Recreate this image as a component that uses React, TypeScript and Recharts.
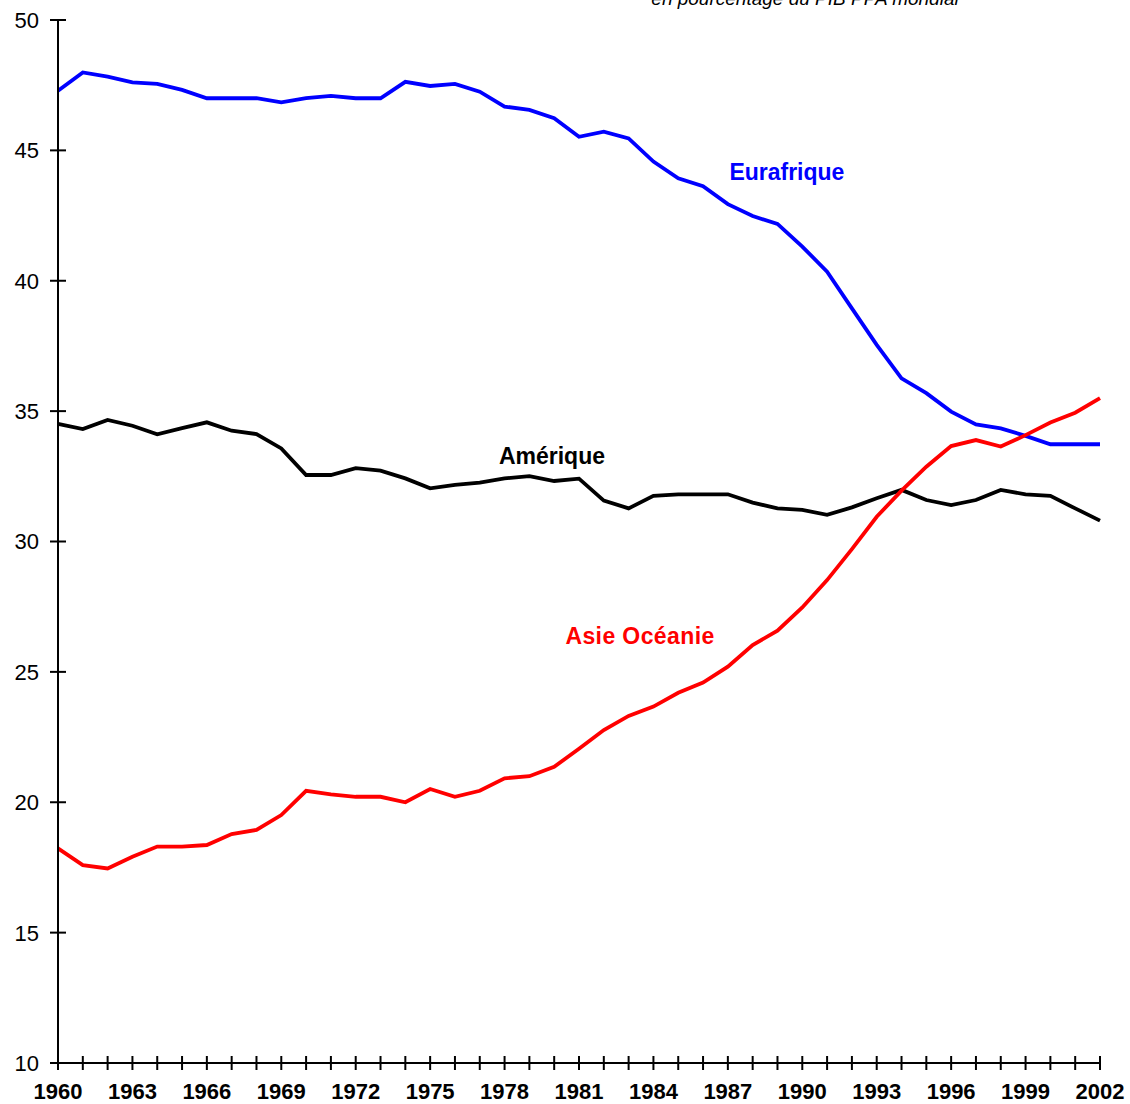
import React from 'react';
import { LineChart, Line, XAxis, YAxis, ReferenceDot } from 'recharts';

const years = [
  1960, 1961, 1962, 1963, 1964, 1965, 1966, 1967, 1968, 1969,
  1970, 1971, 1972, 1973, 1974, 1975, 1976, 1977, 1978, 1979,
  1980, 1981, 1982, 1983, 1984, 1985, 1986, 1987, 1988, 1989,
  1990, 1991, 1992, 1993, 1994, 1995, 1996, 1997, 1998, 1999,
  2000, 2001, 2002,
];

const eurafrique = [
  47.29, 47.99, 47.83, 47.61, 47.55, 47.32, 47.0, 47.0, 47.0, 46.84,
  47.0, 47.09, 47.0, 47.0, 47.63, 47.47, 47.55, 47.25, 46.68, 46.55,
  46.23, 45.52, 45.72, 45.46, 44.57, 43.93, 43.63, 42.94, 42.48, 42.18,
  41.31, 40.35, 38.94, 37.54, 36.26, 35.69, 34.98, 34.49, 34.34, 34.05,
  33.73, 33.73, 33.73,
];

const amerique = [
  34.51, 34.31, 34.66, 34.44, 34.11, 34.35, 34.57, 34.25, 34.12, 33.57,
  32.55, 32.55, 32.81, 32.72, 32.42, 32.04, 32.17, 32.26, 32.42, 32.51,
  32.32, 32.41, 31.57, 31.27, 31.75, 31.81, 31.81, 31.81, 31.49, 31.27,
  31.21, 31.02, 31.31, 31.66, 31.98, 31.59, 31.4, 31.59, 31.98, 31.81,
  31.75, 31.27, 30.8,
];

const asieOceanie = [
  18.23, 17.59, 17.46, 17.91, 18.3, 18.3, 18.36, 18.78, 18.94, 19.51,
  20.44, 20.3, 20.21, 20.21, 20.0, 20.51, 20.21, 20.44, 20.92, 21.0,
  21.36, 22.05, 22.77, 23.31, 23.67, 24.2, 24.59, 25.2, 26.03, 26.58,
  27.47, 28.52, 29.71, 30.95, 31.95, 32.87, 33.66, 33.89, 33.64, 34.08,
  34.56, 34.94, 35.5,
];

const yTicks = [10, 15, 20, 25, 30, 35, 40, 45, 50];
const xLabelYears = [1960, 1963, 1966, 1969, 1972, 1975, 1978, 1981, 1984, 1987, 1990, 1993, 1996, 1999, 2002];

const seriesLabels = [
  { text: 'Eurafrique', year: 1989.38, value: 44.17, color: '#0000FF', spacing: 0 },
  { text: 'Amérique', year: 1979.91, value: 33.28, color: '#000000', spacing: 0 },
  { text: 'Asie Océanie', year: 1983.46, value: 26.38, color: '#FF0000', spacing: 0.4 },
];

const subtitle = 'en pourcentage du PIB PPA mondial';

const data = years.map((year, i) => ({
  year,
  eurafrique: eurafrique[i],
  amerique: amerique[i],
  asie: asieOceanie[i],
}));

const FONT = '"Liberation Sans", Arial, Helvetica, sans-serif';
const TICK_SIZE = 8;
const TICK_MARGIN = 12;

const XTick = (props: any) => {
  const { x, y, payload } = props;
  const axisY = y - TICK_SIZE - TICK_MARGIN;
  const show = xLabelYears.includes(payload.value);
  return (
    <g>
      <line x1={x} x2={x} y1={axisY - 7} y2={axisY + 7} stroke="#000" strokeWidth={2} />
      {show && (
        <text x={x} y={axisY + 36} textAnchor="middle" fontFamily={FONT} fontSize={22} fontWeight="bold" fill="#000">
          {payload.value}
        </text>
      )}
    </g>
  );
};

const YTick = (props: any) => {
  const { x, y, payload } = props;
  const axisX = x + TICK_SIZE + TICK_MARGIN;
  return (
    <g>
      <line x1={axisX - 8} x2={axisX + 8} y1={y} y2={y} stroke="#000" strokeWidth={2} />
      <text x={axisX - 19} y={y} dy="0.36em" textAnchor="end" fontFamily={FONT} fontSize={22} fill="#000">
        {payload.value}
      </text>
    </g>
  );
};

export default function App() {
  return (
    <div style={{ position: 'absolute', left: 0, top: 0, width: 1130, height: 1104, background: '#fff', fontFamily: FONT, overflow: 'hidden' }}>
      <div
        style={{
          position: 'absolute',
          left: 805,
          top: -12,
          transform: 'translateX(-50%)',
          whiteSpace: 'nowrap',
          fontStyle: 'italic',
          fontSize: 19,
          color: '#000',
          fontFamily: FONT,
        }}
      >
        {subtitle}
      </div>
      <LineChart width={1130} height={1104} data={data} margin={{ top: 20, right: 30, left: 0, bottom: 0 }}>
        <XAxis
          dataKey="year"
          type="number"
          domain={[1960, 2002]}
          ticks={years}
          interval={0}
          tickLine={false}
          tickSize={TICK_SIZE}
          tickMargin={TICK_MARGIN}
          axisLine={{ stroke: '#000', strokeWidth: 2 }}
          tick={<XTick />}
          height={41}
        />
        <YAxis
          type="number"
          domain={[10, 50]}
          ticks={yTicks}
          interval={0}
          tickLine={false}
          tickSize={TICK_SIZE}
          tickMargin={TICK_MARGIN}
          axisLine={{ stroke: '#000', strokeWidth: 2 }}
          tick={<YTick />}
          width={58}
        />
        <Line type="linear" dataKey="amerique" stroke="#000000" strokeWidth={3.8} dot={false} isAnimationActive={false} />
        <Line type="linear" dataKey="eurafrique" stroke="#0000FF" strokeWidth={3.8} dot={false} isAnimationActive={false} />
        <Line type="linear" dataKey="asie" stroke="#FF0000" strokeWidth={3.8} dot={false} isAnimationActive={false} />
        {seriesLabels.map((l) => (
          <ReferenceDot
            key={l.text}
            x={l.year}
            y={l.value}
            r={0}
            fill="none"
            stroke="none"
            ifOverflow="visible"
            label={{ value: l.text, position: 'center', fill: l.color, fontSize: 23, fontWeight: 'bold', fontFamily: FONT, letterSpacing: l.spacing }}
          />
        ))}
      </LineChart>
    </div>
  );
}
